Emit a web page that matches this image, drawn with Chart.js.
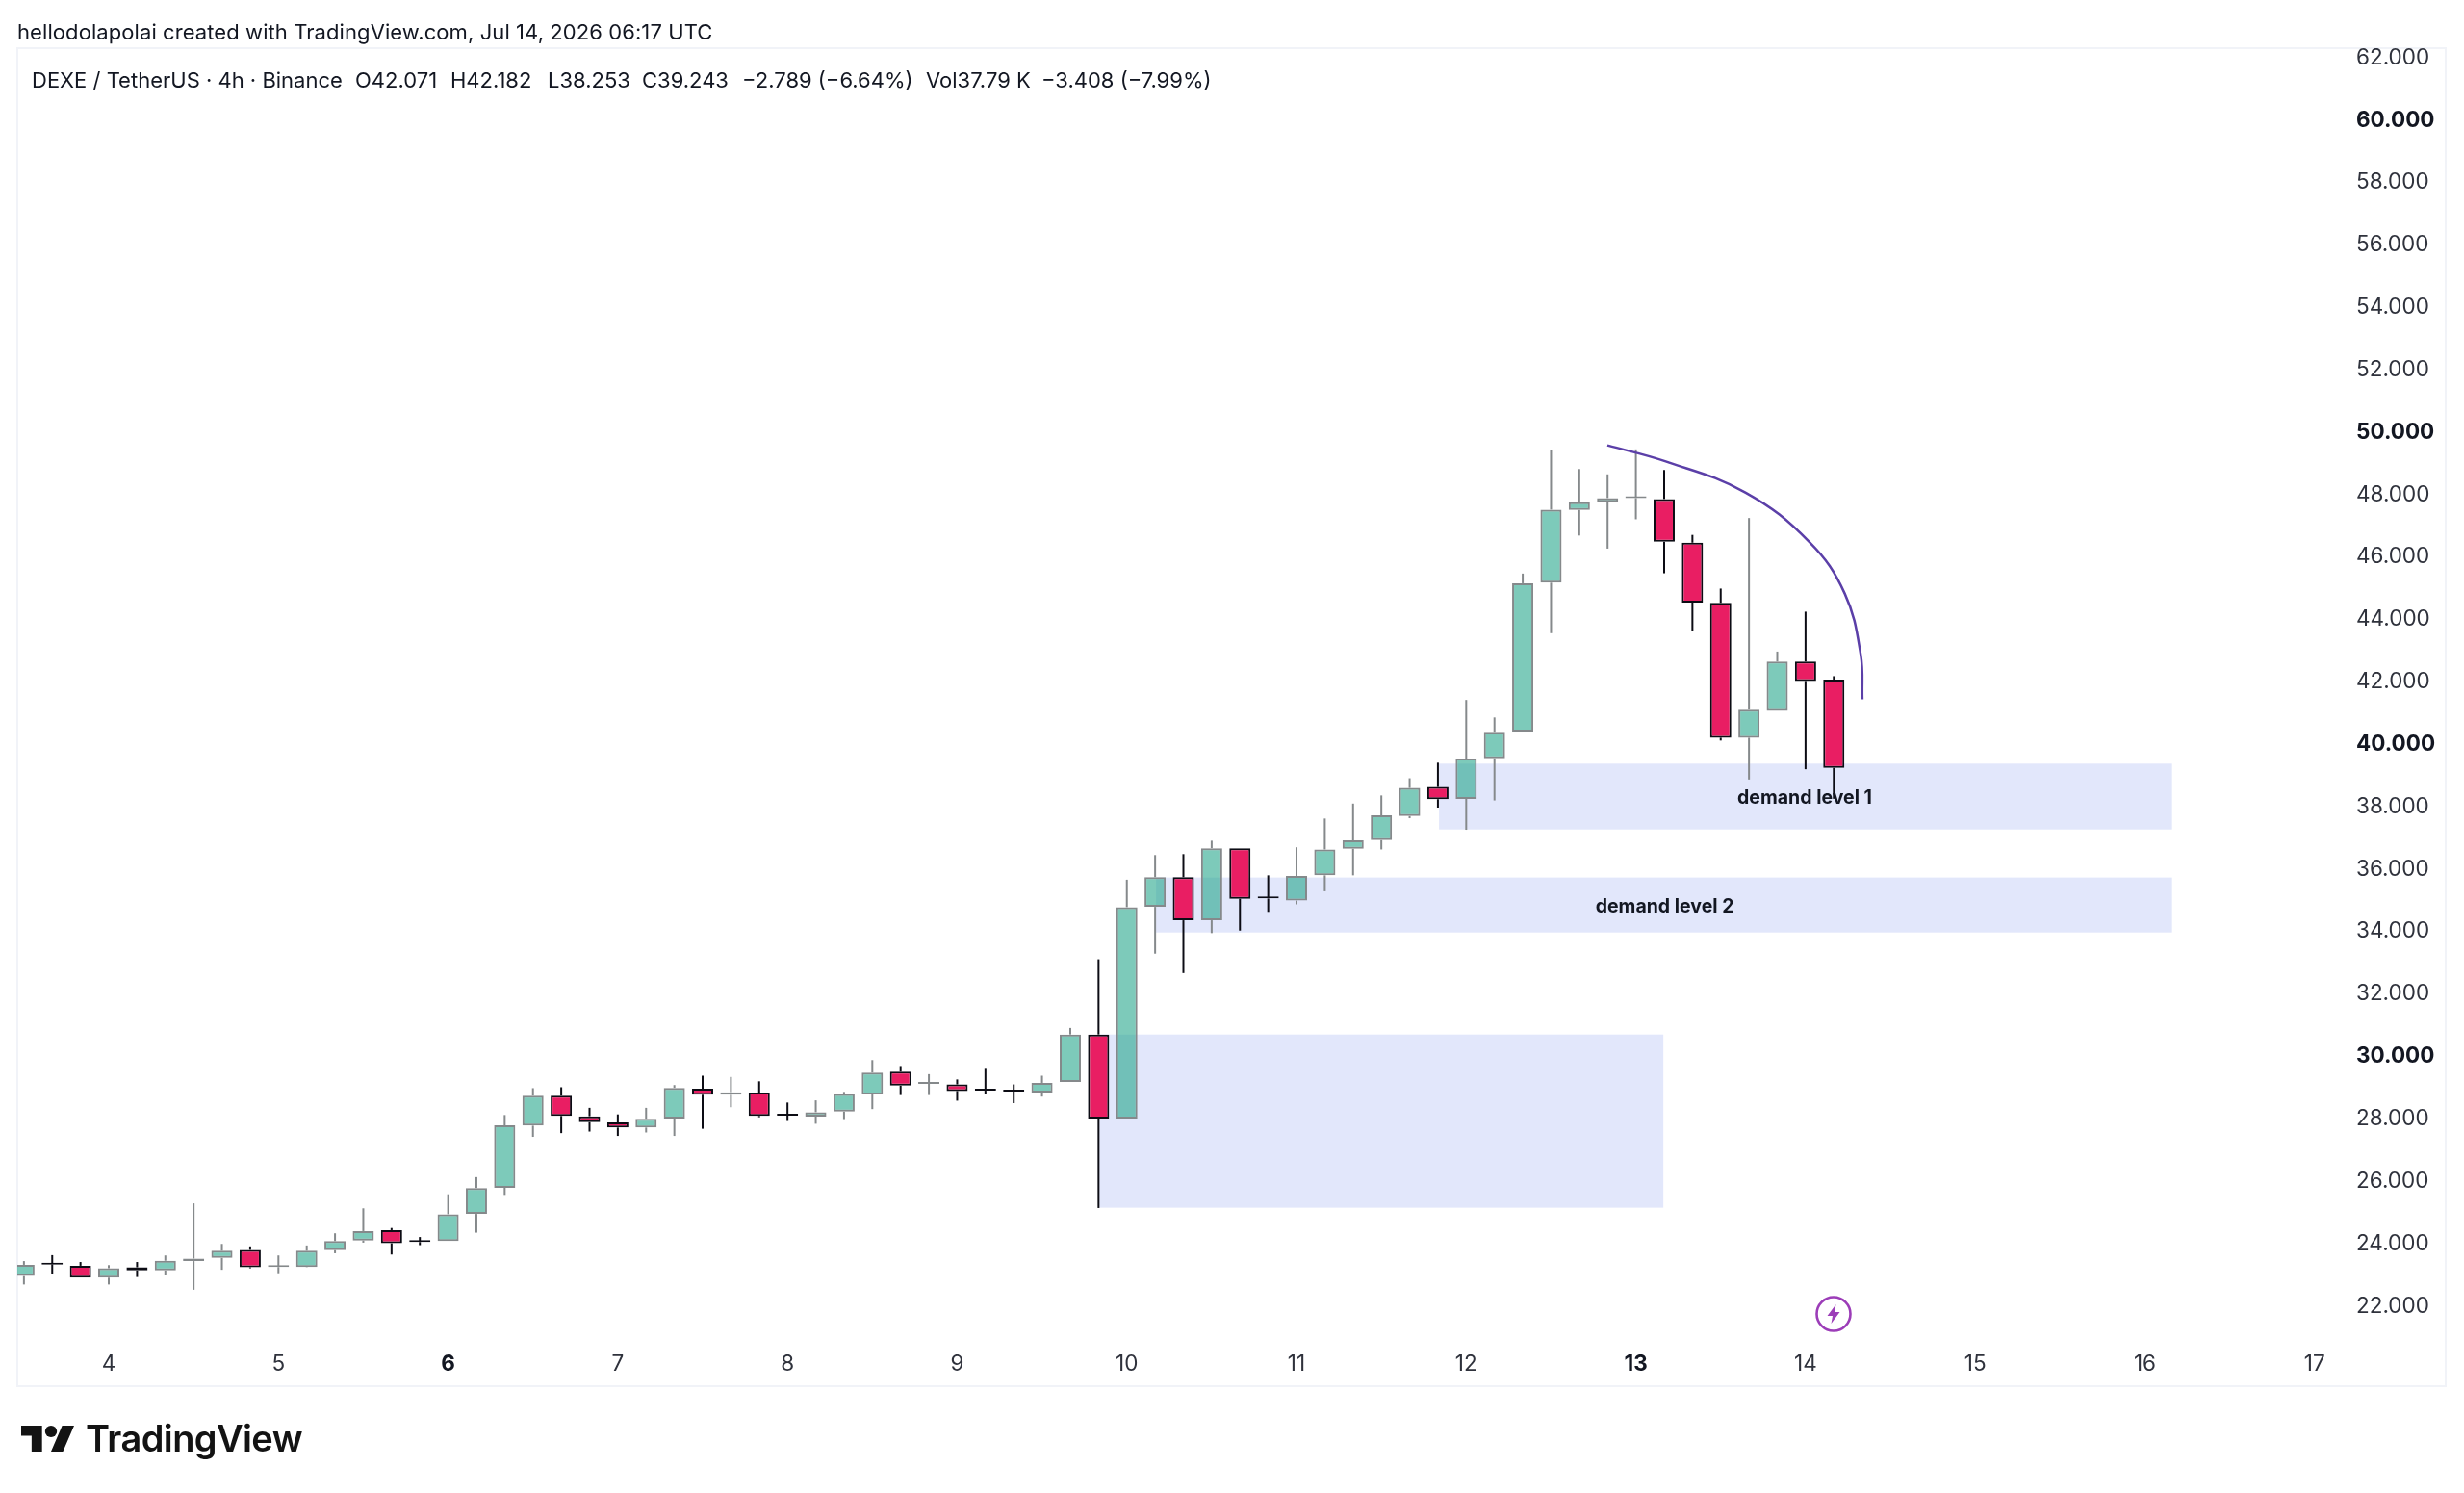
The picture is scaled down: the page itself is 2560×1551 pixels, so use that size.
<!DOCTYPE html>
<html>
<head>
<meta charset="utf-8">
<title>DEXE / TetherUS 4h</title>
<script src="https://cdn.jsdelivr.net/npm/chart.js@4/dist/chart.umd.js"></script>
<style>
  html, body { margin: 0; padding: 0; background: #fff; }
  body { width: 2560px; height: 1551px; position: relative; overflow: hidden; font-family: Inter, sans-serif; color: #131722; }
  canvas { position: absolute; left: 0; top: 0; }
  .txt { position: absolute; white-space: pre; font-size: 22px; line-height: 26px; }
  .wordmark { position: absolute; left: 89px; top: 1470px; font-size: 38px; line-height: 48px; font-weight: 600; letter-spacing: -0.6px; color: #131313; }
  svg { position: absolute; }
</style>
</head>
<body>
<canvas id="candles" width="2560" height="1551"></canvas>

<div class="txt" style="left:18px;top:20px;letter-spacing:0.08px">hellodolapolai created with TradingView.com, Jul 14, 2026 06:17 UTC</div>
<div class="txt" style="left:33px;top:70px">DEXE / TetherUS · 4h · Binance</div>
<div class="txt" style="left:369px;top:70px">O42.071</div>
<div class="txt" style="left:468px;top:70px">H42.182</div>
<div class="txt" style="left:569px;top:70px">L38.253</div>
<div class="txt" style="left:667px;top:70px">C39.243</div>
<div class="txt" style="left:771px;top:70px">−2.789 (−6.64%)</div>
<div class="txt" style="left:962px;top:70px">Vol37.79 K</div>
<div class="txt" style="left:1082px;top:70px">−3.408 (−7.99%)</div>

<!-- event marker under the last candle -->
<svg style="left:1885px;top:1345px" width="40" height="40" viewBox="0 0 40 40">
  <circle cx="20" cy="20" r="17.5" fill="#fff" stroke="#9c3db8" stroke-width="2.6"/>
  <path d="M22.5 10 L13.5 22 H19 L17.5 30 L26.5 18 H21 Z" fill="#9c3db8"/>
</svg>

<svg style="left:22px;top:1481px" width="55" height="27" viewBox="0 4 35.5 18" preserveAspectRatio="none">
  <path d="M14 22H7V11H0V4h14v18zM28 22h-8l7.5-18h8L28 22z" fill="#131313"/>
  <circle cx="20" cy="8" r="4" fill="#131313"/>
</svg>
<div class="wordmark">TradingView</div>

<script>
// 4h candles, first one opens the afternoon of the 3rd
const opens = [22.96, 23.34, 23.29, 22.91, 23.24, 23.14, 23.44, 23.54, 23.80, 23.25,
  23.25, 23.79, 24.10, 24.43, 24.06, 24.08, 24.95, 25.79, 27.78, 28.74,
  28.08, 27.88, 27.72, 28.01, 28.96, 28.77, 28.84, 28.11, 28.07, 28.23,
  28.78, 29.51, 29.12, 29.10, 28.91, 28.88, 28.84, 29.18, 30.70, 28.01,
  34.79, 35.74, 34.36, 36.67, 35.07, 34.99, 35.80, 36.65, 36.93, 37.70,
  38.63, 38.25, 39.55, 40.41, 45.18, 47.51, 47.76, 47.89, 47.86, 46.46,
  44.53, 40.21, 41.07, 42.65, 42.071];
const highs = [23.44, 23.63, 23.41, 23.31, 23.41, 23.62, 25.29, 23.99, 23.91, 23.62,
  23.94, 24.33, 25.13, 24.50, 24.21, 25.58, 26.13, 28.12, 28.98, 29.01,
  28.35, 28.14, 28.35, 29.08, 29.38, 29.34, 29.20, 28.52, 28.59, 28.86,
  29.88, 29.69, 29.43, 29.26, 29.60, 29.10, 29.38, 30.91, 33.11, 35.66,
  36.45, 36.48, 36.91, 36.67, 35.80, 36.70, 37.62, 38.10, 38.36, 38.91,
  39.41, 41.42, 40.86, 45.47, 49.42, 48.82, 48.65, 49.45, 48.79, 46.71,
  44.99, 47.25, 42.97, 44.25, 42.182];
const lows = [22.69, 23.03, 22.91, 22.69, 22.93, 22.98, 22.52, 23.16, 23.21, 23.05,
  23.24, 23.69, 24.03, 23.65, 23.95, 24.08, 24.35, 25.56, 27.42, 27.54,
  27.59, 27.45, 27.56, 27.45, 27.68, 28.37, 28.05, 27.93, 27.84, 27.99,
  28.31, 28.76, 28.76, 28.58, 28.79, 28.50, 28.71, 29.18, 25.14, 28.01,
  33.29, 32.67, 33.95, 34.03, 34.63, 34.87, 35.29, 35.80, 36.63, 37.63,
  37.97, 37.26, 38.20, 40.41, 43.56, 46.69, 46.27, 47.21, 45.48, 43.64,
  40.12, 38.87, 41.07, 39.20, 38.253];
const closes = [23.32, 23.33, 22.91, 23.21, 23.14, 23.45, 23.52, 23.77, 23.24, 23.26,
  23.77, 24.08, 24.40, 24.01, 24.05, 24.94, 25.78, 27.79, 28.74, 28.09,
  27.89, 27.72, 28.00, 28.99, 28.77, 28.85, 28.09, 28.10, 28.21, 28.79,
  29.48, 29.06, 29.13, 28.89, 28.90, 28.87, 29.15, 30.70, 28.01, 34.78,
  35.74, 34.36, 36.67, 35.05, 35.06, 35.78, 36.63, 36.92, 37.72, 38.60,
  38.24, 39.54, 40.40, 45.16, 47.52, 47.76, 47.89, 47.90, 46.49, 44.54,
  40.21, 41.11, 42.65, 42.03, 39.243];

const dayTicks = [4, 5, 6, 7, 8, 9, 10, 11, 12, 13, 14, 15, 16, 17];
const boldDays = [6, 13];
const priceTicks = [22, 24, 26, 28, 30, 32, 34, 36, 38, 40, 42, 44, 46, 48, 50, 52, 54, 56, 58, 60, 62];
const boldPrices = [30, 40, 50, 60];

// demand boxes, in days and price
const zoneStart = [11.84, 10.172, 9.838];
const zoneEnd = [16.16, 16.16, 13.162];
const zoneTop = [39.38, 35.73, 30.70];
const zoneBottom = [37.27, 33.97, 25.15];

const noteText = ['demand level 1', 'demand level 2'];
const noteDay = [13.995, 13.17];
const notePrice = [38.26, 34.78];

// hand drawn arc over the top
const arcDay = [12.832, 13.172, 13.645, 14.023, 14.231, 14.325, 14.335];
const arcPrice = [49.58, 49.07, 48.07, 46.48, 44.83, 42.88, 41.44];

const FONT = 'Inter, sans-serif';
const UP_FILL = 'rgba(38, 166, 140, 0.6)';
const UP_LINE = '#85898b';
const DOWN_FILL = '#e91e63';
const DOWN_LINE = '#0c0c14';

// candles sit six to a day, starting at 12:00 on the 3rd
const candleDay = opens.map((o, i) => 3.5 + i / 6);
const isUp = opens.map((o, i) => closes[i] >= o);
const wickColors = isUp.map(u => u ? UP_LINE : DOWN_LINE);

// the scale also asks for its font before any tick exists
const tickFont = boldList => ctx => ({
    family: FONT,
    size: 22.5,
    weight: ctx.tick && boldList.includes(ctx.tick.value) ? '700' : '400'
});
const tickColor = boldList => ctx => ctx.tick && boldList.includes(ctx.tick.value) ? '#131722' : '#2f323c';

const panelFrame = {
    id: 'panelFrame',
    beforeDraw(chart) {
        const c = chart.ctx;
        c.save();
        c.strokeStyle = '#f1f3f8';
        c.lineWidth = 2;
        c.strokeRect(18, 50, 2523, 1390);
        c.restore();
    }
};

const demandZones = {
    id: 'demandZones',
    beforeDatasetsDraw(chart) {
        const { ctx: c, scales: { x, y } } = chart;
        c.save();
        c.fillStyle = '#e2e7fb';
        zoneStart.forEach((d, i) => {
            const left = x.getPixelForValue(d);
            const top = y.getPixelForValue(zoneTop[i]);
            c.fillRect(left, top, x.getPixelForValue(zoneEnd[i]) - left, y.getPixelForValue(zoneBottom[i]) - top);
        });
        c.restore();
    },
    afterDatasetsDraw(chart) {
        const { ctx: c, scales: { x, y } } = chart;
        c.save();
        c.font = '700 19.5px ' + FONT;
        c.fillStyle = '#131722';
        c.textAlign = 'center';
        c.textBaseline = 'middle';
        noteText.forEach((t, i) => {
            c.fillText(t, x.getPixelForValue(noteDay[i]), y.getPixelForValue(notePrice[i]));
        });
        c.restore();
    }
};

// wicks stop at the body so they don't show through the see-through fill
const wickDataset = (from, to) => ({
    data: from.map((v, i) => ({ x: candleDay[i], y: [v, to[i]] })),
    backgroundColor: wickColors,
    borderWidth: 0,
    inflateAmount: 0,
    barThickness: 2,
    grouped: false,
    order: 3
});
const bodyTops = opens.map((o, i) => Math.max(o, closes[i]));
const bodyBottoms = opens.map((o, i) => Math.min(o, closes[i]));

new Chart(document.getElementById('candles'), {
    type: 'bar',
    data: {
        datasets: [
            {
                // the arc
                type: 'line',
                data: arcDay.map((d, i) => ({ x: d, y: arcPrice[i] })),
                borderColor: '#5b3fa8',
                borderWidth: 2.5,
                pointRadius: 0,
                tension: 0.4,
                order: 1
            },
            {
                // bodies
                data: opens.map((o, i) => ({ x: candleDay[i], y: [o, closes[i]] })),
                backgroundColor: isUp.map(u => u ? UP_FILL : DOWN_FILL),
                borderColor: isUp.map(u => u ? UP_LINE : DOWN_LINE),
                borderWidth: 2,
                borderSkipped: false,
                inflateAmount: 0,
                barThickness: 22,
                minBarLength: 2,
                grouped: false,
                order: 2
            },
            wickDataset(bodyTops, highs),
            wickDataset(lows, bodyBottoms)
        ]
    },
    options: {
        responsive: false,
        animation: false,
        devicePixelRatio: 1,
        layout: { padding: { left: 18, top: 50, right: 19, bottom: 111 } },
        plugins: {
            legend: { display: false },
            tooltip: { enabled: false }
        },
        scales: {
            x: {
                type: 'linear',
                offset: false,
                min: 3.461,
                max: 17.2,
                grid: { display: false, drawTicks: false },
                border: { display: false },
                afterBuildTicks(scale) {
                    scale.ticks = dayTicks.map(d => ({ value: d }));
                },
                afterFit(scale) {
                    scale.height = 45;
                },
                ticks: {
                    autoSkip: false,
                    maxRotation: 0,
                    padding: 9,
                    color: tickColor(boldDays),
                    font: tickFont(boldDays),
                    callback: v => String(v)
                }
            },
            y: {
                type: 'linear',
                position: 'right',
                min: 20.82,
                max: 62.308,
                grid: { display: false, drawTicks: false },
                border: { display: false },
                afterBuildTicks(scale) {
                    scale.ticks = priceTicks.map(p => ({ value: p }));
                },
                afterFit(scale) {
                    scale.width = 101;
                },
                ticks: {
                    autoSkip: false,
                    padding: 8,
                    color: tickColor(boldPrices),
                    font: tickFont(boldPrices),
                    callback: v => v.toFixed(3)
                }
            }
        }
    },
    plugins: [panelFrame, demandZones]
});
</script>
</body>
</html>
